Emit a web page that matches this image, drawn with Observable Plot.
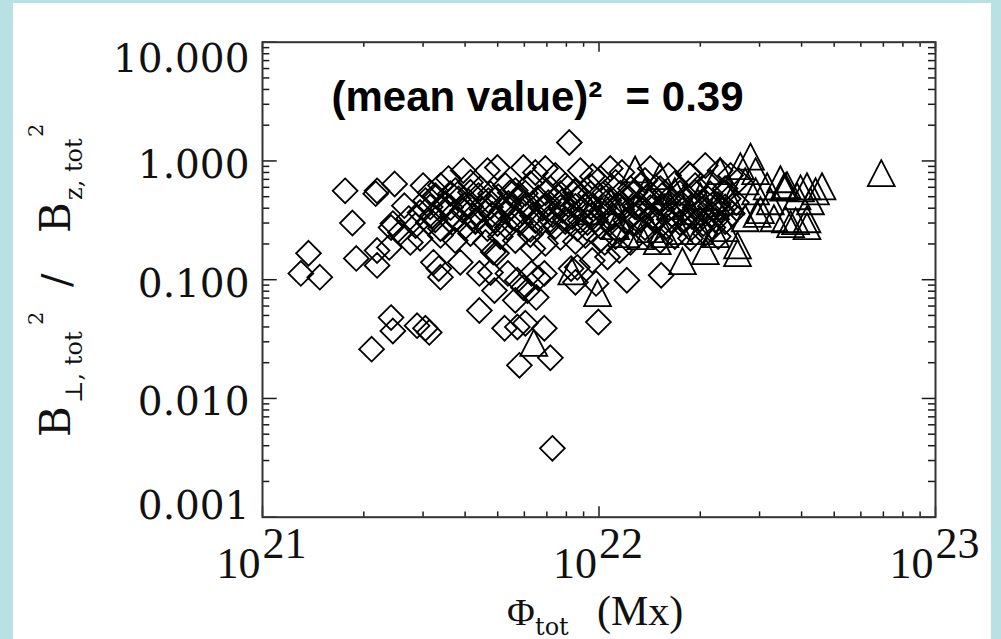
<!DOCTYPE html>
<html><head><meta charset="utf-8">
<script src="https://cdn.jsdelivr.net/npm/d3@7"></script>
<script src="https://cdn.jsdelivr.net/npm/@observablehq/plot@0.6"></script>
<style>
html,body{margin:0;padding:0;background:#b9e0e3;width:1001px;height:639px;overflow:hidden}
#chart{position:absolute;left:13px;top:3px;width:978px;height:636px;background:#fff}
</style></head><body><div id="chart"></div>
<script>
// Flux values in units of 1e21 Mx, ratio B_perp^2 / B_z^2
const FLUX_UNIT = 1e21;
const diamondPoints = [
[1.76,0.56],[1.85,0.30],[2.19,0.56],[2.17,0.53],[2.47,0.64],[2.64,0.42],[1.37,0.167],[1.30,0.113],[1.48,0.105],[1.90,0.151],
[2.19,0.176],[2.19,0.132],[2.41,0.275],[2.44,0.297],[2.38,0.187],[2.41,0.048],[2.44,0.037],[2.11,0.026],[2.88,0.041],[3.13,0.036],
[3.05,0.039],[2.75,0.206],[3.00,0.62],[3.22,0.140],[3.38,0.105],[3.34,0.124],[3.87,0.140],[3.95,0.83],[4.41,0.055],[4.41,0.113],
[4.96,0.167],[4.89,0.081],[5.24,0.039],[5.36,0.113],[5.72,0.099],[5.64,0.067],[5.96,0.086],[6.13,0.081],[6.51,0.071],[6.36,0.183],
[6.88,0.113],[6.04,0.043],[5.72,0.040],[6.88,0.039],[7.17,0.022],[5.80,0.019],[7.27,0.0038],[8.16,1.43],[8.62,0.127],[8.26,0.124],
[8.51,0.095],[9.96,0.044],[9.80,0.093],[9.55,0.145],[10.6,0.155],[12.1,0.099],[15.3,0.109],[11.5,0.176],[10.4,0.206],[4.76,0.115],
[6.60,0.103],[6.30,0.113],[4.85,0.171],[2.57,0.25],[2.72,0.327],
[4.66,0.83],[4.99,0.88],[5.96,0.88],[6.47,0.80],[6.93,0.865],[7.42,0.755],[8.80,0.83],[9.56,0.74],[10.8,0.865],[11.7,0.80],
[14.2,0.865],[16.1,0.755],[18.4,0.78],[18.7,0.755],[20.7,0.916],[22.9,0.83],[24.6,0.755],[13.7,0.685],[10.1,0.71],
[3.38,0.62],[3.74,0.563],[4.15,0.66],[4.44,0.585],[5.27,0.62],[5.64,0.563],[6.25,0.645],[7.17,0.585],[7.94,0.62],[8.51,0.563],
[9.43,0.61],[11.2,0.66],[12.4,0.585],[13.3,0.62],[15.2,0.585],[16.8,0.645],[19.3,0.62],[21.4,0.66],[23.7,0.585],[26.0,0.685],[3.57,0.71],
[3.15,0.54],[3.62,0.53],[4.15,0.545],[4.76,0.53],[5.45,0.54],[6.04,0.535],[6.93,0.54],[7.68,0.53],[8.51,0.545],[9.43,0.53],
[10.4,0.54],[11.6,0.535],[12.8,0.545],[14.2,0.53],[15.7,0.54],[17.4,0.535],[19.3,0.545],[21.4,0.53],[23.7,0.54],
[3.05,0.464],[3.26,0.511],[3.50,0.438],[3.82,0.48],[4.09,0.421],[4.38,0.511],[4.69,0.464],[5.02,0.50],[5.38,0.438],[5.76,0.48],
[6.17,0.421],[6.60,0.49],[7.07,0.446],[7.57,0.50],[8.11,0.43],[8.68,0.48],[9.30,0.438],[9.96,0.511],[10.7,0.464],[11.4,0.421],
[12.2,0.49],[13.1,0.438],[14.0,0.50],[15.0,0.446],[16.1,0.48],[17.2,0.43],[18.4,0.49],[19.7,0.446],[21.1,0.48],[22.6,0.43],
[24.2,0.48],[25.6,0.446],
[3.15,0.41],[3.62,0.405],[4.15,0.415],[4.76,0.41],[5.45,0.405],[6.04,0.415],[6.93,0.41],[7.68,0.405],[8.51,0.415],[9.43,0.41],
[10.4,0.405],[11.6,0.415],[12.8,0.41],[14.2,0.405],[15.7,0.415],[17.4,0.41],[19.3,0.405],[21.4,0.415],[23.7,0.41],
[2.94,0.368],[3.20,0.347],[3.43,0.40],[3.67,0.354],[3.93,0.383],[4.21,0.34],[4.50,0.39],[4.82,0.354],[5.16,0.383],[5.53,0.333],
[5.92,0.376],[6.34,0.347],[6.79,0.40],[7.27,0.354],[7.79,0.383],[8.33,0.34],[8.92,0.39],[9.56,0.354],[10.2,0.383],[11.0,0.34],
[11.7,0.39],[12.6,0.354],[13.5,0.383],[14.4,0.34],[15.4,0.39],[16.5,0.354],[17.7,0.383],[18.9,0.34],[20.3,0.39],[21.7,0.354],
[23.2,0.383],[24.9,0.361],
[3.26,0.32],[3.74,0.325],[4.29,0.315],[4.92,0.32],[5.64,0.325],[6.47,0.315],[7.17,0.32],[7.94,0.325],[8.80,0.315],[9.76,0.32],
[10.8,0.325],[12.0,0.315],[13.3,0.32],[14.7,0.325],[16.3,0.315],[18.0,0.32],[20.0,0.325],[22.2,0.315],
[2.85,0.286],[3.11,0.303],[3.38,0.27],[3.67,0.303],[4.01,0.28],[4.29,0.309],[4.66,0.27],[4.99,0.297],[5.34,0.275],[5.84,0.303],
[6.25,0.265],[6.69,0.297],[7.42,0.28],[7.94,0.309],[8.62,0.27],[9.24,0.303],[10.1,0.28],[10.8,0.303],[11.6,0.265],[12.6,0.297],
[13.7,0.275],[14.7,0.309],[15.9,0.28],[17.4,0.303],[18.7,0.27],[20.4,0.297],[21.8,0.275],[23.7,0.309],
[2.94,0.223],[3.38,0.236],[3.74,0.214],[4.15,0.245],[4.60,0.206],[5.09,0.231],[5.64,0.214],[6.25,0.240],[6.93,0.202],[7.68,0.227],
[8.51,0.210],[9.11,0.236],[10.1,0.218],[11.2,0.231],[12.4,0.206],[14.0,0.236],[15.2,0.214],[16.8,0.231],[18.7,0.223],[20.7,0.245],
[22.6,0.231]
];
const trianglePoints = [
[28.2,1.00],[35.8,0.56],[36.2,0.575],[35.4,0.55],[41.5,0.563],[46.0,0.563],[35.8,0.297],[37.1,0.27],[41.5,0.297],[41.5,0.26],
[25.8,0.179],[25.8,0.154],[69,0.726],[29.5,0.33],[31.6,0.563],[17.7,0.132],[9.9,0.071],[8.3,0.108],[12.8,0.78],[14.9,0.194],
[20.7,0.16],[30.2,0.355],[33.1,0.303],[6.4,0.027],[38.8,0.464],[42.5,0.421],[32.3,0.421],[29.2,0.511],[27.2,0.62],[24.6,0.421],
[22.2,0.383],[20.0,0.464],[18.7,0.347],[16.3,0.383],[17.4,0.236],[15.7,0.223],[14.2,0.245],[13.3,0.214],[12.0,0.223],[11.2,0.26],
[20.0,0.236],[22.2,0.223],[23.7,0.25],[27.2,0.303],[13.7,0.511],[15.2,0.685],[16.8,0.511],[10.8,0.421],[9.43,0.347],[22.9,0.755],
[26.3,0.831],[29.2,0.755],[34.6,0.645],[39.7,0.54],[44.0,0.511],[38.4,0.286]
];
const yMajorTicks = [0.001, 0.01, 0.1, 1, 10];
const yTickLabels = ["0.001", "0.010", "0.100", "1.000", "10.000"];
const yMinorTicks = [0.002,0.003,0.004,0.005,0.006,0.007,0.008,0.009,0.02,0.03,0.04,0.05,0.06,0.07,0.08,0.09,
  0.2,0.3,0.4,0.5,0.6,0.7,0.8,0.9,2,3,4,5,6,7,8,9];
const xMajorTicks = [1e21, 1e22, 1e23];
const xTickBase = "10";
const xTickExponents = ["21", "22", "23"];
const xMinorTicks = [2e21,3e21,4e21,5e21,6e21,7e21,8e21,9e21,2e22,3e22,4e22,5e22,6e22,7e22,8e22,9e22];
const annotationText = "(mean value)\u00b2\u00a0\u00a0= 0.39";

const W = 978, H = 636, mL = 249, mR = 56, mT = 38.7, mB = 122.3;
const innerH = H - mT - mB, innerW = W - mL - mR;
const ink = "#1a1a1a";

const toRows = (pts) => pts.map(([f, r]) => ({flux: f * FLUX_UNIT, ratio: r}));
const diamonds = toRows(diamondPoints);
const triangles = toRows(trianglePoints);
const yLab = yMajorTicks.map((v, i) => ({v, label: yTickLabels[i]}));
const xLab = xMajorTicks.map((v, i) => ({v, exp: xTickExponents[i]}));

const diamondSymbol = {draw(ctx) { const h = 12.4; ctx.moveTo(0, -h); ctx.lineTo(h, 0); ctx.lineTo(0, h); ctx.lineTo(-h, 0); ctx.closePath(); }};
const triangleSymbol = {draw(ctx) { ctx.moveTo(0, -17.3); ctx.lineTo(13.4, 8.7); ctx.lineTo(-13.4, 8.7); ctx.closePath(); }};

const yFont = {fontFamily: "DejaVu Serif", fontSize: 39, fill: "#111"};
const xFont = {fontFamily: "Liberation Serif", fontSize: 44, fill: "#111"};

const plot = Plot.plot({
  width: W, height: H,
  marginLeft: mL, marginRight: mR, marginTop: mT, marginBottom: mB,
  style: {background: "#fff", overflow: "visible"},
  x: {type: "log", domain: [1e21, 1e23], axis: null},
  y: {type: "log", domain: [0.001, 10], axis: null},
  marks: [
    Plot.dot(diamonds, {x: "flux", y: "ratio", symbol: diamondSymbol, r: 11, stroke: "#000", fill: "none", strokeWidth: 1.8}),
    Plot.dot(triangles, {x: "flux", y: "ratio", symbol: triangleSymbol, r: 12, stroke: "#000", fill: "none", strokeWidth: 1.8}),
    Plot.tickX(xMajorTicks, {x: d => d, insetTop: innerH - 10.5, stroke: ink, strokeWidth: 1.5}),
    Plot.tickX(xMinorTicks, {x: d => d, insetTop: innerH - 5.3, stroke: ink, strokeWidth: 1.5}),
    Plot.tickX(xMajorTicks, {x: d => d, insetBottom: innerH - 10, stroke: ink, strokeWidth: 1.5}),
    Plot.tickX(xMinorTicks, {x: d => d, insetBottom: innerH - 5, stroke: ink, strokeWidth: 1.5}),
    Plot.tickY(yMajorTicks, {y: d => d, insetRight: innerW - 14.7, stroke: ink, strokeWidth: 1.5}),
    Plot.tickY(yMinorTicks, {y: d => d, insetRight: innerW - 7.3, stroke: ink, strokeWidth: 1.5}),
    Plot.tickY(yMajorTicks, {y: d => d, insetLeft: innerW - 13.3, stroke: ink, strokeWidth: 1.5}),
    Plot.tickY(yMinorTicks, {y: d => d, insetLeft: innerW - 7, stroke: ink, strokeWidth: 1.5}),
    Plot.frame({stroke: "#333", strokeWidth: 2}),
    Plot.text(yLab.filter(d => d.v === 10), {y: "v", text: "label", frameAnchor: "left", textAnchor: "end", lineAnchor: "bottom", dx: -13, dy: 29.3, ...yFont}),
    Plot.text(yLab.filter(d => d.v > 0.001 && d.v < 10), {y: "v", text: "label", frameAnchor: "left", textAnchor: "end", lineAnchor: "bottom", dx: -13, dy: 16.8, ...yFont}),
    Plot.text(yLab.filter(d => d.v === 0.001), {y: "v", text: "label", frameAnchor: "left", textAnchor: "end", lineAnchor: "bottom", dx: -13, dy: 1.3, ...yFont}),
    Plot.text(xLab, {x: "v", text: () => xTickBase, frameAnchor: "bottom", textAnchor: "end", lineAnchor: "bottom", dx: -2, dy: 60.3, ...xFont}),
    Plot.text(xLab, {x: "v", text: "exp", frameAnchor: "bottom", textAnchor: "start", lineAnchor: "bottom", dx: 0, dy: 40.3, ...xFont}),
    Plot.text([annotationText], {text: d => d, frameAnchor: "top-left", textAnchor: "start", lineAnchor: "bottom", dx: 69, dy: 68.3,
      fontFamily: "Liberation Sans, Arial, sans-serif", fontWeight: "bold", fontSize: 42, fill: "#000"})
  ]
});

const svg = d3.select(plot);
// y-axis title: B⊥,tot² / Bz,tot²
const yt = svg.append("text").attr("transform", "translate(57,434) rotate(-90)")
  .attr("text-anchor", "start").attr("font-family", "DejaVu Serif").attr("fill", "#111");
[["B", 0, 0, 42], ["\u22a5, tot", 34, 12, 24], ["2", 112, -27, 21], ["/", 150, 0, 40],
 ["B", 204, 0, 42], ["z, tot", 237, 12, 24], ["2", 300, -27, 21]].forEach(([t, x, y, s]) => {
  yt.append("tspan").attr("x", x).attr("y", y).attr("font-size", s).text(t);
});
// x-axis title: Φtot (Mx)
const xt = svg.append("text").attr("text-anchor", "start").attr("fill", "#111");
xt.append("tspan").attr("x", 494).attr("y", 622).attr("font-family", "Liberation Serif").attr("font-size", 38).text("\u03a6");
xt.append("tspan").attr("x", 522).attr("y", 632).attr("font-family", "DejaVu Serif").attr("font-size", 24).text("tot");
xt.append("tspan").attr("x", 584).attr("y", 622).attr("font-family", "Liberation Serif").attr("font-size", 42).text("(Mx)");

document.getElementById("chart").appendChild(plot);
</script></body></html>
